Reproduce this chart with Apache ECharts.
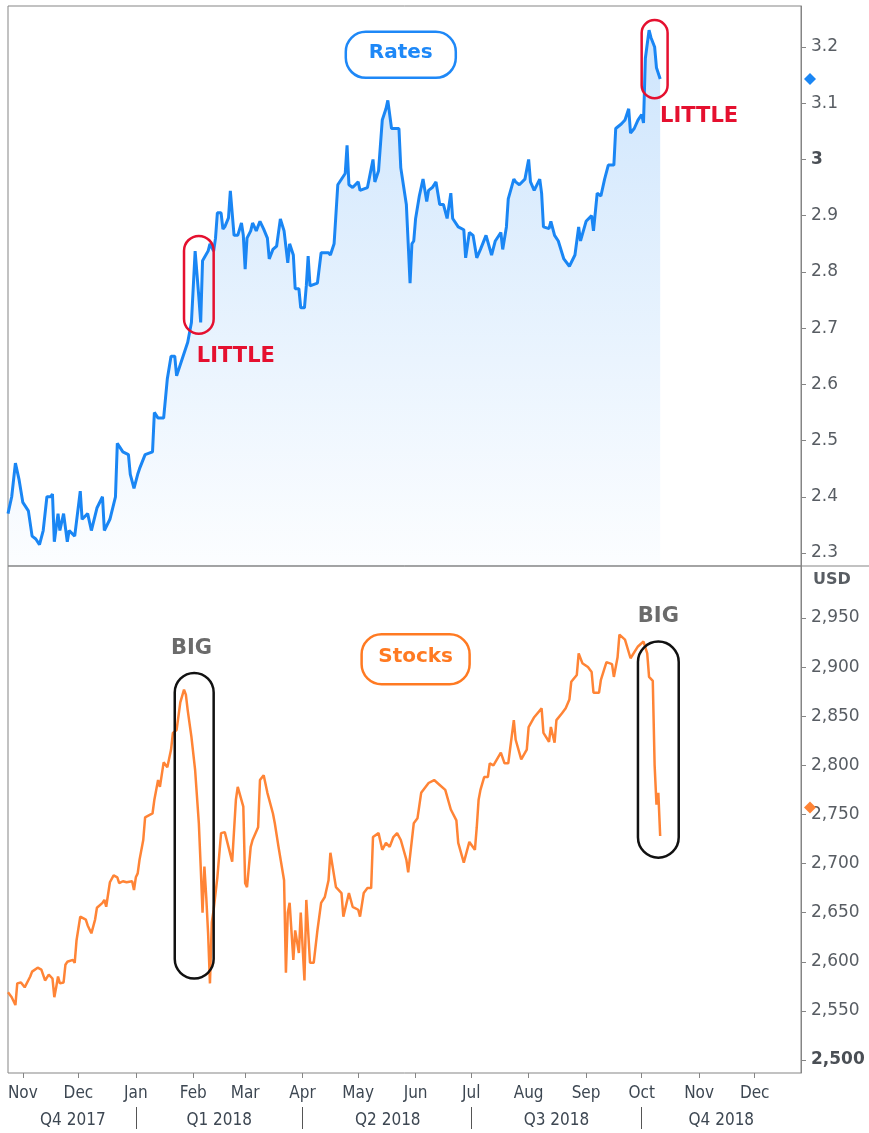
<!DOCTYPE html>
<html><head><meta charset="utf-8">
<script src="https://cdn.jsdelivr.net/npm/echarts@6/dist/echarts.min.js"></script>
<style>html,body{margin:0;padding:0;background:#fff}#c{width:869px;height:1133px}</style>
</head><body><div id="c"></div>
<script>
// ---------- data ----------
const rateDates = ['2017-10-24','2017-10-26','2017-10-28','2017-10-30','2017-11-01','2017-11-04','2017-11-06','2017-11-08','2017-11-10','2017-11-12','2017-11-14','2017-11-16','2017-11-17','2017-11-18','2017-11-20','2017-11-21','2017-11-23','2017-11-25','2017-11-26','2017-11-29','2017-12-02','2017-12-03','2017-12-06','2017-12-08','2017-12-11','2017-12-14','2017-12-15','2017-12-18','2017-12-21','2017-12-22','2017-12-25','2017-12-28','2017-12-29','2017-12-31','2018-01-02','2018-01-03','2018-01-06','2018-01-10','2018-01-11','2018-01-13','2018-01-16','2018-01-18','2018-01-20','2018-01-22','2018-01-23','2018-01-26','2018-01-29','2018-01-31','2018-02-02','2018-02-04','2018-02-05','2018-02-06','2018-02-09','2018-02-10','2018-02-12','2018-02-13','2018-02-14','2018-02-16','2018-02-17','2018-02-18','2018-02-20','2018-02-21','2018-02-22','2018-02-23','2018-02-25','2018-02-27','2018-02-28','2018-03-01','2018-03-02','2018-03-04','2018-03-05','2018-03-07','2018-03-09','2018-03-11','2018-03-13','2018-03-14','2018-03-16','2018-03-18','2018-03-20','2018-03-22','2018-03-24','2018-03-25','2018-03-27','2018-03-28','2018-03-30','2018-03-31','2018-04-02','2018-04-03','2018-04-04','2018-04-05','2018-04-09','2018-04-11','2018-04-15','2018-04-16','2018-04-18','2018-04-20','2018-04-24','2018-04-25','2018-04-26','2018-04-28','2018-05-01','2018-05-02','2018-05-06','2018-05-09','2018-05-10','2018-05-12','2018-05-14','2018-05-16','2018-05-17','2018-05-19','2018-05-23','2018-05-24','2018-05-27','2018-05-28','2018-05-29','2018-05-30','2018-05-31','2018-06-01','2018-06-03','2018-06-05','2018-06-07','2018-06-08','2018-06-10','2018-06-12','2018-06-14','2018-06-16','2018-06-18','2018-06-20','2018-06-21','2018-06-24','2018-06-27','2018-06-28','2018-06-30','2018-07-02','2018-07-04','2018-07-06','2018-07-09','2018-07-12','2018-07-14','2018-07-17','2018-07-18','2018-07-20','2018-07-21','2018-07-24','2018-07-25','2018-07-27','2018-07-30','2018-08-01','2018-08-02','2018-08-04','2018-08-07','2018-08-08','2018-08-09','2018-08-12','2018-08-13','2018-08-15','2018-08-17','2018-08-20','2018-08-23','2018-08-26','2018-08-28','2018-08-29','2018-09-01','2018-09-04','2018-09-05','2018-09-07','2018-09-09','2018-09-11','2018-09-13','2018-09-16','2018-09-17','2018-09-20','2018-09-22','2018-09-24','2018-09-25','2018-09-27','2018-09-29','2018-10-01','2018-10-02','2018-10-03','2018-10-05','2018-10-06','2018-10-08','2018-10-09','2018-10-11'];
const rateValues = [2.37,2.40,2.46,2.43,2.39,2.375,2.33,2.325,2.315,2.34,2.40,2.40,2.405,2.32,2.37,2.34,2.37,2.32,2.34,2.33,2.41,2.36,2.37,2.34,2.38,2.40,2.34,2.36,2.40,2.495,2.48,2.475,2.44,2.415,2.44,2.45,2.475,2.48,2.55,2.54,2.54,2.61,2.65,2.65,2.615,2.645,2.675,2.71,2.837,2.755,2.71,2.82,2.837,2.85,2.837,2.86,2.905,2.905,2.876,2.88,2.896,2.944,2.944,2.865,2.865,2.887,2.865,2.805,2.86,2.873,2.887,2.873,2.89,2.876,2.86,2.823,2.84,2.846,2.894,2.873,2.816,2.85,2.83,2.77,2.77,2.736,2.736,2.775,2.828,2.775,2.78,2.834,2.834,2.83,2.85,2.955,2.975,3.025,2.955,2.95,2.96,2.945,2.95,3.0,2.96,2.98,3.07,3.09,3.105,3.055,3.055,2.985,2.92,2.85,2.78,2.85,2.855,2.895,2.935,2.965,2.925,2.945,2.95,2.96,2.92,2.92,2.895,2.94,2.895,2.88,2.875,2.825,2.87,2.865,2.825,2.84,2.865,2.83,2.855,2.87,2.84,2.88,2.93,2.965,2.96,2.955,2.965,3.0,2.96,2.945,2.965,2.94,2.88,2.877,2.89,2.865,2.855,2.823,2.81,2.83,2.88,2.855,2.89,2.90,2.873,2.94,2.935,2.965,2.99,2.99,3.055,3.063,3.07,3.09,3.047,3.055,3.07,3.08,3.065,3.18,3.23,3.217,3.20,3.163,3.143];

const stockDates = ['2017-10-24','2017-10-26','2017-10-28','2017-10-29','2017-10-31','2017-11-02','2017-11-03','2017-11-05','2017-11-06','2017-11-09','2017-11-11','2017-11-13','2017-11-15','2017-11-17','2017-11-18','2017-11-19','2017-11-20','2017-11-21','2017-11-23','2017-11-24','2017-11-25','2017-11-28','2017-11-29','2017-11-30','2017-12-02','2017-12-05','2017-12-06','2017-12-08','2017-12-10','2017-12-11','2017-12-14','2017-12-15','2017-12-16','2017-12-18','2017-12-20','2017-12-22','2017-12-23','2017-12-25','2017-12-27','2017-12-30','2017-12-31','2018-01-01','2018-01-02','2018-01-03','2018-01-05','2018-01-06','2018-01-07','2018-01-10','2018-01-11','2018-01-13','2018-01-14','2018-01-16','2018-01-18','2018-01-20','2018-01-21','2018-01-23','2018-01-25','2018-01-27','2018-01-28','2018-01-29','2018-01-31','2018-02-02','2018-02-04','2018-02-05','2018-02-06','2018-02-07','2018-02-08','2018-02-09','2018-02-10','2018-02-11','2018-02-12','2018-02-14','2018-02-16','2018-02-18','2018-02-20','2018-02-22','2018-02-24','2018-02-25','2018-02-28','2018-03-01','2018-03-02','2018-03-04','2018-03-05','2018-03-08','2018-03-09','2018-03-11','2018-03-13','2018-03-16','2018-03-17','2018-03-19','2018-03-22','2018-03-23','2018-03-24','2018-03-25','2018-03-27','2018-03-28','2018-03-30','2018-03-31','2018-04-02','2018-04-03','2018-04-05','2018-04-07','2018-04-09','2018-04-11','2018-04-13','2018-04-15','2018-04-16','2018-04-17','2018-04-19','2018-04-22','2018-04-23','2018-04-26','2018-04-28','2018-05-01','2018-05-02','2018-05-04','2018-05-06','2018-05-08','2018-05-09','2018-05-12','2018-05-14','2018-05-16','2018-05-18','2018-05-20','2018-05-22','2018-05-24','2018-05-27','2018-05-28','2018-05-31','2018-06-02','2018-06-04','2018-06-08','2018-06-11','2018-06-14','2018-06-17','2018-06-20','2018-06-23','2018-06-24','2018-06-27','2018-06-30','2018-07-03','2018-07-04','2018-07-05','2018-07-06','2018-07-08','2018-07-10','2018-07-11','2018-07-13','2018-07-14','2018-07-17','2018-07-19','2018-07-21','2018-07-24','2018-07-25','2018-07-28','2018-07-31','2018-08-01','2018-08-04','2018-08-08','2018-08-09','2018-08-12','2018-08-13','2018-08-15','2018-08-16','2018-08-19','2018-08-21','2018-08-23','2018-08-24','2018-08-27','2018-08-28','2018-08-30','2018-09-02','2018-09-04','2018-09-05','2018-09-08','2018-09-09','2018-09-12','2018-09-15','2018-09-16','2018-09-18','2018-09-19','2018-09-22','2018-09-25','2018-09-29','2018-10-02','2018-10-04','2018-10-05','2018-10-07','2018-10-08','2018-10-09','2018-10-10','2018-10-11'];
const stockValues = [2569,2564,2556,2578,2579,2574,2574,2585,2590,2594,2592,2581,2587,2583,2564,2574,2585,2578,2579,2597,2600,2602,2599,2622,2646,2643,2637,2629,2643,2655,2660,2663,2656,2681,2688,2686,2680,2682,2681,2682,2673,2686,2690,2704,2724,2747,2747,2751,2765,2785,2778,2803,2798,2816,2833,2836,2864,2877,2872,2856,2829,2795,2741,2697,2650,2697,2666,2629,2578,2640,2653,2686,2731,2732,2717,2702,2765,2778,2758,2680,2676,2717,2724,2737,2785,2790,2772,2751,2741,2717,2683,2589,2650,2660,2602,2632,2609,2650,2581,2663,2599,2599,2632,2660,2666,2683,2711,2711,2676,2670,2646,2670,2656,2653,2646,2670,2675,2675,2727,2731,2714,2721,2717,2727,2731,2724,2704,2691,2741,2746,2772,2782,2785,2780,2775,2755,2744,2721,2701,2722,2714,2737,2765,2775,2788,2788,2802,2800,2802,2813,2802,2802,2846,2826,2806,2816,2839,2849,2858,2833,2824,2839,2823,2846,2853,2858,2867,2885,2892,2914,2904,2900,2895,2874,2874,2887,2905,2903,2890,2910,2933,2928,2909,2921,2926,2914,2890,2886,2800,2760,2772,2728];

const rateTicks = [2.3, 2.4, 2.5, 2.6, 2.7, 2.8, 2.9, 3, 3.1, 3.2];
const stockTicks = [2500, 2550, 2600, 2650, 2700, 2750, 2800, 2850, 2900, 2950];
const monthTicks = ['2017-11-01','2017-12-01','2018-01-01','2018-02-01','2018-03-01','2018-04-01','2018-05-01','2018-06-01','2018-07-01','2018-08-01','2018-09-01','2018-10-01','2018-11-01','2018-12-01'];
const monthNames = ['Jan','Feb','Mar','Apr','May','Jun','Jul','Aug','Sep','Oct','Nov','Dec'];
const quarterBounds = ['2018-01-01','2018-04-01','2018-07-01','2018-10-01'];
const quarterLabelDates = ['2017-11-28','2018-02-15','2018-05-17','2018-08-16','2018-11-13'];
const quarterLabels = ['Q4 2017','Q1 2018','Q2 2018','Q3 2018','Q4 2018'];
const axisStart = '2017-10-24', axisEnd = '2018-12-26';
const rateLast = 3.143, stockLast = 2757;
const rateRange = [2.2769, 3.2729], stockRange = [2486.8, 3002.9];

// annotations in data coordinates
const littleBoxes = [['2018-01-27','2018-02-12',2.69,2.864],['2018-10-01','2018-10-15',3.109,3.248]];
const littleTexts = [['2018-02-24',2.65],['2018-11-01',3.077]];
const bigBoxes = [['2018-01-22','2018-02-12',2583,2894],['2018-09-29','2018-10-21',2706,2926]];
const bigTexts = [['2018-01-31',2919],['2018-10-10',2951]];
const ratesTitle = ['2018-05-24',3.186];
const stocksTitle = ['2018-06-01',2908];

// ---------- chart ----------
const ts = s => { const p = s.split('-').map(Number); return Date.UTC(p[0], p[1]-1, p[2]); };
const rateData = rateDates.map((d,i) => [ts(d), rateValues[i]]);
const stockData = stockDates.map((d,i) => [ts(d), stockValues[i]]);
const monthTs = monthTicks.map(ts);
const qBoundTs = quarterBounds.map(ts);
const qLabelTs = quarterLabelDates.map(ts);

const BLUE = '#1a86f4', ORANGE = '#ff8436', RED = '#e5102f';
const AXIS_GRAY = '#858585';
const LABEL_FONT = 'DejaVu Sans';
const NARROW = "'Liberation Sans Narrow','DejaVu Sans Condensed','Liberation Sans',sans-serif";
const XLABEL = '#3d4752';

const chart = echarts.init(document.getElementById('c'), null, {renderer:'canvas'});
// x axis is a numeric (UTC millisecond) axis so that custom month/quarter ticks can be used
const xBase = {type:'value', min: ts(axisStart), max: ts(axisEnd), splitLine:{show:false}};
chart.setOption({
  animation:false,
  backgroundColor:'#fff',
  grid:[
    {left:8, right:68, top:6, height:560, show:true, borderColor:AXIS_GRAY, borderWidth:1},
    {left:8, right:68, top:566, height:507, show:true, borderColor:AXIS_GRAY, borderWidth:1}
  ],
  xAxis:[
    Object.assign({}, xBase, {gridIndex:0, show:false}),
    Object.assign({}, xBase, {gridIndex:1, position:'bottom',
      axisLine:{show:false},
      axisTick:{show:true, customValues: monthTs, length:5, lineStyle:{color:AXIS_GRAY}},
      axisLabel:{customValues: monthTs, margin:12, fontSize:17, color:XLABEL, fontFamily:NARROW,
        formatter: v => monthNames[new Date(v).getUTCMonth()]}}),
    Object.assign({}, xBase, {gridIndex:1, position:'bottom', offset:34,
      axisLine:{show:false},
      axisTick:{show:true, customValues: qBoundTs, length:22, lineStyle:{color:'#555'}},
      axisLabel:{customValues: qLabelTs, margin:5, fontSize:17, color:XLABEL, fontFamily:NARROW,
        formatter: v => quarterLabels[qLabelTs.indexOf(v)]}})
  ],
  yAxis:[
    {type:'value', gridIndex:0, position:'right', min:rateRange[0], max:rateRange[1],
      splitLine:{show:false},
      axisLine:{show:true, lineStyle:{color:AXIS_GRAY}},
      axisTick:{show:true, customValues: rateTicks, length:5, lineStyle:{color:AXIS_GRAY}},
      axisLabel:{customValues: rateTicks, margin:10, fontSize:17, color:'#585d63', fontFamily:LABEL_FONT,
        formatter: v => v === 3 ? '{b|3}' : String(v),
        rich:{b:{fontWeight:'bold', fontSize:17, color:'#4a4f55', fontFamily:LABEL_FONT}}}},
    {type:'value', gridIndex:1, position:'right', min:stockRange[0], max:stockRange[1],
      name:'USD', nameLocation:'end', nameGap:-22,
      nameTextStyle:{fontWeight:'bold', fontSize:16, color:'#585d63', fontFamily:LABEL_FONT, align:'left', padding:[0,0,0,12]},
      splitLine:{show:false},
      axisLine:{show:true, lineStyle:{color:AXIS_GRAY}},
      axisTick:{show:true, customValues: stockTicks, length:5, lineStyle:{color:AXIS_GRAY}},
      axisLabel:{customValues: stockTicks, margin:10, fontSize:17, color:'#585d63', fontFamily:LABEL_FONT,
        formatter: v => v === 2500 ? '{b|2,500}' : v.toLocaleString('en-US'),
        rich:{b:{fontWeight:'bold', fontSize:17, color:'#4a4f55', fontFamily:LABEL_FONT}}}}
  ],
  series:[
    {name:'Rates', type:'line', xAxisIndex:0, yAxisIndex:0, data:rateData, showSymbol:false,
      lineStyle:{color:BLUE, width:3}, itemStyle:{color:BLUE},
      areaStyle:{color:new echarts.graphic.LinearGradient(0, 6, 0, 566, [
        {offset:0, color:'rgba(26,134,244,0.32)'}, {offset:1, color:'rgba(26,134,244,0.02)'}], true)}},
    {name:'Stocks', type:'line', xAxisIndex:1, yAxisIndex:1, data:stockData, showSymbol:false,
      lineStyle:{color:ORANGE, width:2.5}, itemStyle:{color:ORANGE}}
  ]
});

// ---------- annotations anchored to data ----------
const P = (g, d, v) => chart.convertToPixel({gridIndex:g}, [ts(d), v]);
const graphics = [];
function roundBox(g, b, color) {
  const a = P(g, b[0], b[3]), c = P(g, b[1], b[2]);
  const w = c[0]-a[0], h = c[1]-a[1];
  graphics.push({type:'rect', silent:true, z:10,
    shape:{x:a[0], y:a[1], width:w, height:h, r:Math.min(w,h)/2},
    style:{fill:null, stroke:color, lineWidth:2.5}});
}
function label(g, t, text, color, size) {
  const p = P(g, t[0], t[1]);
  graphics.push({type:'text', silent:true, z:10, x:p[0], y:p[1],
    style:{text:text, fill:color, font:'bold '+size+'px "DejaVu Sans"', align:'center', verticalAlign:'middle'}});
}
function titleBox(g, t, text, color, w, h) {
  const p = P(g, t[0], t[1]);
  graphics.push({type:'rect', silent:true, z:10,
    shape:{x:p[0]-w/2, y:p[1]-h/2, width:w, height:h, r:20},
    style:{fill:'#fff', stroke:color, lineWidth:2.5}});
  graphics.push({type:'text', silent:true, z:11, x:p[0], y:p[1]-2,
    style:{text:text, fill:color, font:'bold 20px "DejaVu Sans"', align:'center', verticalAlign:'middle'}});
}
littleBoxes.forEach(b => roundBox(0, b, RED));
littleTexts.forEach(t => label(0, t, 'LITTLE', RED, 21));
bigBoxes.forEach(b => roundBox(1, b, '#111'));
bigTexts.forEach(t => label(1, t, 'BIG', '#6b6b6b', 21));
titleBox(0, ratesTitle, 'Rates', '#1e88f7', 110, 46);
titleBox(1, stocksTitle, 'Stocks', '#ff7a22', 108, 50);

// last-value diamonds on the right axis
function diamond(g, v, color) {
  const p = P(g, axisEnd, v);
  const cx = p[0]+9, cy = p[1], r = 6;
  graphics.push({type:'polygon', silent:true, z:12,
    shape:{points:[[cx,cy-r],[cx+r,cy],[cx,cy+r],[cx-r,cy]]}, style:{fill:color}});
}
diamond(0, rateLast, BLUE);
diamond(1, stockLast, ORANGE);

// separator between panels continues under the axis labels
const sep = P(1, axisEnd, stockRange[1]);
graphics.push({type:'line', silent:true, shape:{x1:sep[0], y1:sep[1], x2:869, y2:sep[1]}, style:{stroke:AXIS_GRAY, lineWidth:1}});

chart.setOption({graphic: graphics});
</script>
</body></html>
